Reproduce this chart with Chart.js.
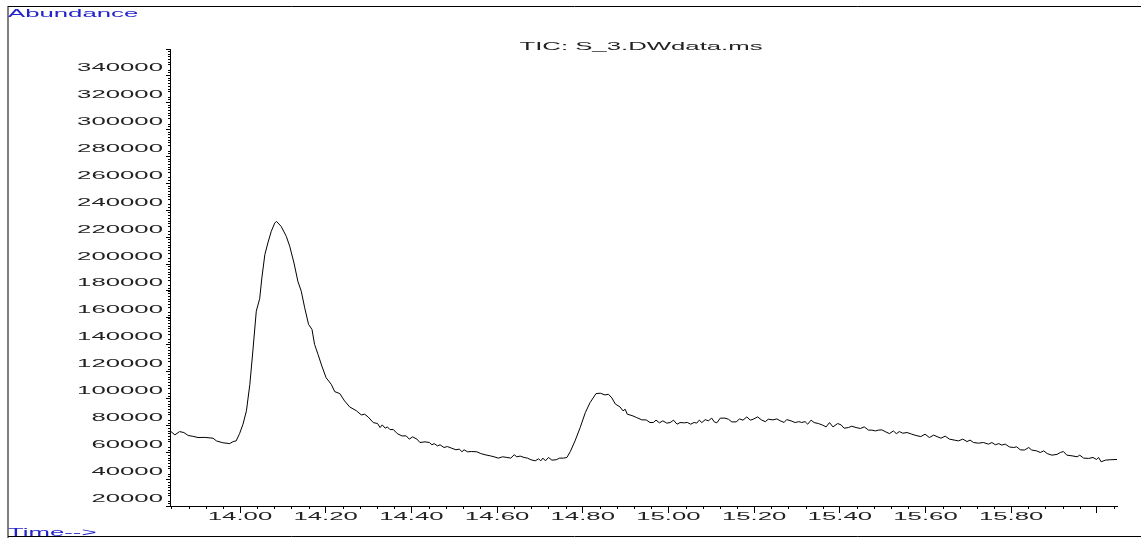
<!DOCTYPE html>
<html>
<head>
<meta charset="utf-8">
<title>TIC: S_3.DWdata.ms</title>
<script src="https://cdn.jsdelivr.net/npm/chart.js@4.4.1/dist/chart.umd.min.js"></script>
<style>
  html, body { margin: 0; padding: 0; background: #fff; }
  canvas { display: block; }
</style>
</head>
<body>
<canvas id="tic" width="1141" height="541"></canvas>
<script>
// retention time (min) / abundance
const retentionTimes = [
  13.839, 13.848, 13.859, 13.869, 13.879, 13.890, 13.902, 13.918, 13.937, 13.945,
  13.960, 13.976, 13.984, 13.991, 13.999, 14.007, 14.015, 14.023, 14.030, 14.038,
  14.046, 14.051, 14.058, 14.065, 14.073, 14.081, 14.085, 14.096, 14.108, 14.116,
  14.126, 14.135, 14.143, 14.151, 14.160, 14.168, 14.174, 14.182, 14.191, 14.201,
  14.213, 14.221, 14.233, 14.244, 14.256, 14.272, 14.283, 14.291, 14.299, 14.311,
  14.321, 14.327, 14.332, 14.339, 14.344, 14.350, 14.358, 14.367, 14.378, 14.388,
  14.395, 14.403, 14.413, 14.420, 14.432, 14.442, 14.448, 14.453, 14.461, 14.467,
  14.476, 14.484, 14.494, 14.504, 14.512, 14.518, 14.523, 14.531, 14.541, 14.553,
  14.562, 14.572, 14.584, 14.593, 14.603, 14.613, 14.623, 14.632, 14.640, 14.646,
  14.654, 14.663, 14.671, 14.679, 14.689, 14.697, 14.702, 14.707, 14.713, 14.720,
  14.728, 14.738, 14.746, 14.755, 14.763, 14.771, 14.782, 14.794, 14.806, 14.817,
  14.831, 14.841, 14.852, 14.860, 14.868, 14.876, 14.887, 14.894, 14.899, 14.904,
  14.915, 14.926, 14.938, 14.948, 14.957, 14.965, 14.971, 14.979, 14.987, 14.996,
  15.004, 15.012, 15.020, 15.027, 15.037, 15.044, 15.052, 15.060, 15.066, 15.072,
  15.078, 15.086, 15.093, 15.101, 15.107, 15.113, 15.121, 15.132, 15.140, 15.148,
  15.158, 15.166, 15.174, 15.183, 15.191, 15.198, 15.208, 15.218, 15.226, 15.233,
  15.244, 15.253, 15.261, 15.270, 15.276, 15.286, 15.296, 15.304, 15.311, 15.319,
  15.325, 15.333, 15.340, 15.350, 15.360, 15.368, 15.376, 15.384, 15.395, 15.403,
  15.410, 15.420, 15.428, 15.438, 15.448, 15.457, 15.467, 15.475, 15.483, 15.490,
  15.498, 15.506, 15.516, 15.525, 15.532, 15.539, 15.547, 15.557, 15.568, 15.578,
  15.589, 15.599, 15.609, 15.619, 15.627, 15.636, 15.646, 15.656, 15.667, 15.677,
  15.687, 15.697, 15.704, 15.712, 15.724, 15.735, 15.747, 15.755, 15.763, 15.771,
  15.778, 15.786, 15.796, 15.806, 15.813, 15.821, 15.831, 15.841, 15.848, 15.859,
  15.868, 15.876, 15.884, 15.895, 15.907, 15.915, 15.922, 15.930, 15.942, 15.954,
  15.960, 15.969, 15.981, 15.991, 15.999, 16.004, 16.010, 16.020, 16.031, 16.047
];

const abundance = [
  69300, 66900, 69300, 68600, 66400, 65800, 64900, 65000, 64400, 62400,
  61000, 60400, 61900, 62400, 67800, 74800, 84700, 104400, 129100, 158700,
  168100, 183400, 200700, 209300, 218000, 224100, 225400, 221700, 214300, 206900,
  194500, 181000, 173500, 161200, 148900, 145200, 134100, 126700, 118000, 109300,
  104400, 99000, 97500, 92100, 87600, 84700, 81700, 82200, 80200, 76000,
  75300, 72300, 74300, 71800, 72800, 70800, 70800, 67800, 66100, 66100,
  63700, 65400, 63700, 61200, 61700, 61200, 59500, 60400, 58700, 59500,
  57500, 58200, 57000, 55800, 56300, 54300, 55800, 54300, 54500, 54300,
  53000, 52100, 51300, 50600, 49600, 50600, 50100, 49600, 52100, 50600,
  51100, 50100, 49600, 48400, 47600, 49100, 47600, 49600, 47600, 50100,
  48100, 48400, 49600, 49600, 50100, 54500, 62400, 72300, 83400, 90800,
  97500, 97800, 96500, 97000, 94300, 89800, 87600, 84700, 85900, 82200,
  81200, 79700, 78000, 78000, 76000, 76100, 77800, 75800, 77300, 75600,
  76000, 77800, 74800, 76000, 75800, 76100, 74800, 76100, 75600, 77800,
  76000, 78200, 77300, 79300, 76500, 75800, 79300, 79300, 78500, 76500,
  76500, 78700, 77800, 80200, 77800, 78500, 80200, 77800, 76700, 78500,
  78000, 78700, 77300, 76100, 78200, 77300, 76000, 76700, 76100, 76700,
  74800, 77800, 76000, 75300, 74100, 72800, 76000, 72800, 75300, 74300,
  71800, 72300, 73300, 72300, 71600, 72800, 70400, 70400, 69800, 70400,
  70600, 69300, 67800, 69800, 67800, 69300, 68100, 68600, 67400, 66400,
  65600, 67400, 64900, 66700, 65600, 64400, 65900, 63700, 63000, 62400,
  63700, 61900, 63000, 61200, 60700, 61200, 60000, 61200, 59500, 60400,
  59300, 60000, 57900, 57500, 58000, 55800, 55600, 57500, 55600, 55000,
  53800, 55000, 53000, 51800, 52400, 53800, 54500, 51800, 51300, 50600,
  51800, 49600, 49400, 50100, 48600, 50100, 46900, 48100, 48400, 48600
];

const yTickLabels = ["20000", "40000", "60000", "80000", "100000", "120000", "140000",
  "160000", "180000", "200000", "220000", "240000", "260000", "280000", "300000",
  "320000", "340000"];
const xTickLabels = ["14.00", "14.20", "14.40", "14.60", "14.80", "15.00", "15.20",
  "15.40", "15.60", "15.80"];

const chartTitle = "TIC: S_3.DWdata.ms";
const yAxisLabel = "Abundance";
const xAxisLabel = "Time-->";

const STRETCH = 2.34;   // the printout uses horizontally stretched lettering
const FONT = '11px "Liberation Sans", Arial, sans-serif';
const BLUE = "#2323c8";

function wideText(ctx, text, x, y, align, color) {
  ctx.save();
  ctx.font = FONT;
  ctx.fillStyle = color;
  ctx.textAlign = "left";
  ctx.textBaseline = "alphabetic";
  const w = ctx.measureText(text).width * STRETCH;
  let left = x;
  if (align === "center") left = x - w / 2;
  if (align === "right") left = x - w;
  ctx.translate(left, y);
  ctx.scale(STRETCH, 1);
  ctx.fillText(text, 0, 0);
  ctx.restore();
}

const chromPlugin = {
  id: "chromDecor",
  afterDraw(chart) {
    const ctx = chart.ctx;
    const xs = chart.scales.x;
    const ys = chart.scales.y;
    const area = chart.chartArea;

    // frame of the printout
    ctx.save();
    ctx.strokeStyle = "#808080";
    ctx.lineWidth = 2;
    ctx.beginPath();
    ctx.moveTo(8, 6);
    ctx.lineTo(8, 538);
    ctx.stroke();
    ctx.strokeStyle = "#000";
    ctx.lineWidth = 1;
    ctx.beginPath();
    ctx.moveTo(8, 6.5);
    ctx.lineTo(1141, 6.5);
    ctx.moveTo(8, 536.5);
    ctx.lineTo(1141, 536.5);
    ctx.stroke();

    // minor ticks
    ctx.beginPath();
    for (let k = Math.ceil(ys.min / 2000); k * 2000 <= ys.max; k++) {
      if (k % 10 === 0) continue;
      const py = Math.round(ys.getPixelForValue(k * 2000)) + 0.5;
      ctx.moveTo(area.left - 2, py);
      ctx.lineTo(area.left, py);
    }
    for (let k = Math.ceil(xs.min / 0.04 - 1e-6); k * 0.04 <= xs.max + 1e-6; k++) {
      if (k % 5 === 0) continue;
      const px = Math.round(xs.getPixelForValue(k * 0.04)) + 0.5;
      ctx.moveTo(px, area.bottom);
      ctx.lineTo(px, area.bottom + 3);
    }
    ctx.stroke();
    ctx.restore();

    // tick labels
    yTickLabels.forEach(lbl => {
      const py = ys.getPixelForValue(parseFloat(lbl));
      wideText(ctx, lbl, area.left - 7, py + 4, "right", "#222");
    });
    xTickLabels.forEach(lbl => {
      const px = xs.getPixelForValue(parseFloat(lbl));
      wideText(ctx, lbl, px, area.bottom + 13.5, "center", "#222");
    });

    wideText(ctx, chartTitle, 641, 49.5, "center", "#222");
    wideText(ctx, yAxisLabel, 8, 16.5, "left", BLUE);
    wideText(ctx, xAxisLabel, 8, 535.5, "left", BLUE);
  }
};

new Chart(document.getElementById("tic"), {
  type: "line",
  data: {
    datasets: [{
      label: chartTitle,
      data: retentionTimes.map((t, i) => ({ x: t, y: abundance[i] })),
      borderColor: "#000",
      borderWidth: 1,
      pointRadius: 0,
      tension: 0,
      fill: false
    }]
  },
  options: {
    responsive: false,
    animation: false,
    events: [],
    layout: { padding: { left: 166, top: 49, right: 24, bottom: 28 } },
    plugins: {
      legend: { display: false },
      title: { display: false },
      tooltip: { enabled: false }
    },
    scales: {
      x: {
        type: "linear",
        min: 13.8366,
        max: 16.047,
        border: { display: true, color: "#000", width: 1 },
        grid: { drawOnChartArea: false, drawTicks: true, tickLength: 7, color: "#000" },
        ticks: { display: false, stepSize: 0.2, includeBounds: false }
      },
      y: {
        type: "linear",
        min: 14060,
        max: 353360,
        border: { display: true, color: "#000", width: 1 },
        grid: { drawOnChartArea: false, drawTicks: true, tickLength: 4, color: "#000" },
        ticks: { display: false, stepSize: 20000, includeBounds: false }
      }
    }
  },
  plugins: [chromPlugin]
});
</script>
</body>
</html>
